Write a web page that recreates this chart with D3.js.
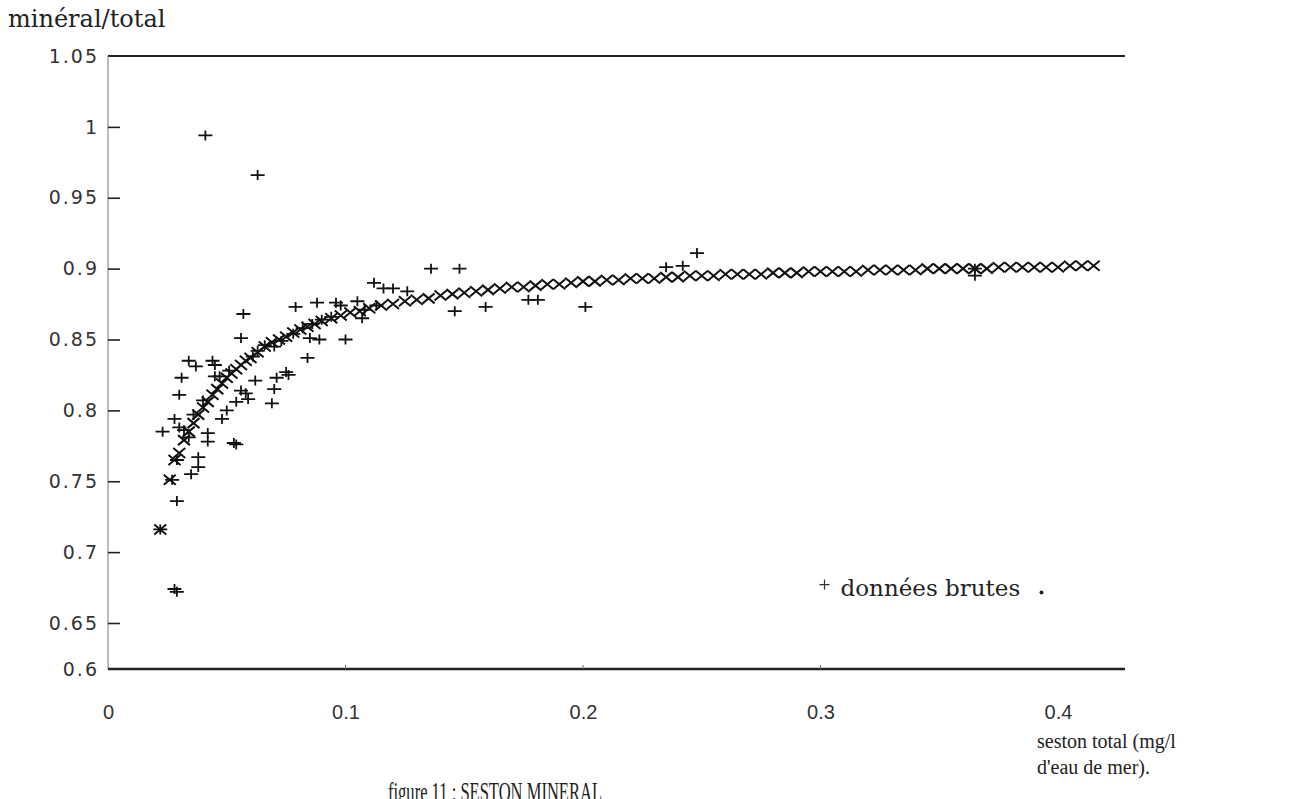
<!DOCTYPE html>
<html>
<head>
<meta charset="utf-8">
<script src="https://cdn.jsdelivr.net/npm/d3@7/dist/d3.min.js"></script>
<style>
  html, body { margin: 0; padding: 0; background: #fff; }
  svg { display: block; }
  .ytick text { font-family: "DejaVu Sans", sans-serif; font-size: 19px; letter-spacing: 2px; fill: #333; }
  .xtick text { font-family: "Liberation Sans", Arial, sans-serif; font-size: 20px; fill: #333; }
  .serif { font-family: "DejaVu Serif", serif; fill: #222; }
  .times { font-family: "Liberation Serif", "Times New Roman", serif; fill: #222; }
</style>
</head>
<body>
<div id="chart"></div>
<script>
// raw data: données brutes (seston total, minéral/total)
var rawX = [0.041, 0.063, 0.112, 0.116, 0.120, 0.126, 0.136, 0.148, 0.079, 0.088,
  0.096, 0.098, 0.105, 0.057, 0.056, 0.100, 0.084, 0.107, 0.034, 0.037,
  0.044, 0.045, 0.031, 0.045, 0.062, 0.071, 0.075, 0.076, 0.030, 0.056,
  0.058, 0.059, 0.070, 0.054, 0.069, 0.050, 0.048, 0.028, 0.023, 0.030,
  0.042, 0.042, 0.034, 0.053, 0.054, 0.029, 0.038, 0.038, 0.035, 0.027,
  0.029, 0.022, 0.028, 0.029, 0.066, 0.070, 0.073, 0.078, 0.082, 0.086,
  0.090, 0.094, 0.085, 0.089, 0.061, 0.063, 0.051, 0.047, 0.108, 0.113,
  0.040, 0.036, 0.032, 0.146, 0.159, 0.177, 0.181, 0.201, 0.235, 0.242,
  0.248, 0.365, 0.365];
var rawY = [0.994, 0.966, 0.890, 0.886, 0.886, 0.884, 0.900, 0.900, 0.873, 0.876,
  0.876, 0.874, 0.877, 0.868, 0.851, 0.850, 0.837, 0.865, 0.835, 0.831,
  0.835, 0.832, 0.823, 0.824, 0.821, 0.823, 0.827, 0.825, 0.811, 0.814,
  0.812, 0.808, 0.815, 0.806, 0.805, 0.800, 0.794, 0.794, 0.785, 0.788,
  0.784, 0.778, 0.781, 0.777, 0.776, 0.765, 0.767, 0.760, 0.755, 0.751,
  0.736, 0.716, 0.674, 0.672, 0.846, 0.845, 0.849, 0.854, 0.858, 0.861,
  0.864, 0.866, 0.851, 0.850, 0.838, 0.842, 0.828, 0.824, 0.871, 0.874,
  0.807, 0.797, 0.786, 0.870, 0.873, 0.878, 0.878, 0.873, 0.901, 0.902,
  0.911, 0.900, 0.895];

// fitted curve, drawn as x marks
var fitX = [0.022, 0.026, 0.028, 0.030, 0.032, 0.034, 0.036, 0.038, 0.040, 0.042,
  0.044, 0.046, 0.048, 0.050, 0.052, 0.054, 0.056, 0.058, 0.060, 0.063,
  0.066, 0.069, 0.072, 0.075, 0.078, 0.081, 0.084, 0.087, 0.090, 0.094,
  0.098, 0.102, 0.106, 0.110, 0.115, 0.120, 0.125, 0.130, 0.135, 0.140,
  0.145, 0.150, 0.155, 0.160, 0.165, 0.170, 0.175, 0.180, 0.185, 0.190,
  0.195, 0.200, 0.205, 0.210, 0.215, 0.220, 0.225, 0.230, 0.235, 0.240,
  0.245, 0.250, 0.255, 0.260, 0.265, 0.270, 0.275, 0.280, 0.285, 0.290,
  0.295, 0.300, 0.305, 0.310, 0.315, 0.320, 0.325, 0.330, 0.335, 0.340,
  0.345, 0.350, 0.355, 0.360, 0.365, 0.370, 0.375, 0.380, 0.385, 0.390,
  0.395, 0.400, 0.405, 0.410, 0.415];
var fitY = [0.716, 0.751, 0.765, 0.770, 0.779, 0.785, 0.791, 0.797, 0.802, 0.806,
  0.811, 0.815, 0.819, 0.823, 0.826, 0.829, 0.832, 0.835, 0.837, 0.841,
  0.845, 0.848, 0.850, 0.852, 0.855, 0.857, 0.859, 0.861, 0.863, 0.865,
  0.867, 0.869, 0.870, 0.872, 0.874, 0.875, 0.877, 0.878, 0.879, 0.881,
  0.882, 0.883, 0.884, 0.885, 0.886, 0.887, 0.887, 0.888, 0.889, 0.889,
  0.890, 0.891, 0.891, 0.892, 0.892, 0.893, 0.893, 0.893, 0.894, 0.894,
  0.895, 0.895, 0.895, 0.896, 0.896, 0.896, 0.896, 0.897, 0.897, 0.897,
  0.898, 0.898, 0.898, 0.898, 0.898, 0.899, 0.899, 0.899, 0.899, 0.899,
  0.900, 0.900, 0.900, 0.900, 0.900, 0.900, 0.901, 0.901, 0.901, 0.901,
  0.901, 0.901, 0.902, 0.902, 0.902];

var yTicks = [0.6, 0.65, 0.7, 0.75, 0.8, 0.85, 0.9, 0.95, 1, 1.05];
var yTickLabels = ["0.6", "0.65", "0.7", "0.75", "0.8", "0.85", "0.9", "0.95", "1", "1.05"];
var xTicks = [0, 0.1, 0.2, 0.3, 0.4];
var xTickLabels = ["0", "0.1", "0.2", "0.3", "0.4"];

var width = 1302, height = 799;
var margins = { top: 56, right: 177, bottom: 130, left: 108 };
var chartWidth = width - margins.left - margins.right;
var chartHeight = height - margins.top - margins.bottom;

var xScale = d3.scaleLinear().domain([0, 0.4]).range([0, 950]);
// the scanned axis is squeezed between 0.6 and 0.65
var yScale = d3.scaleLinear().domain([0.6, 0.65, 1.05]).range([chartHeight, 567, 0]);

var svg = d3.select("#chart").append("svg")
  .attr("width", width)
  .attr("height", height);

var chartElement = svg.append("g")
  .attr("transform", `translate(${margins.left},${margins.top})`);

// frame
chartElement.append("line")
  .attr("x1", 0).attr("x2", chartWidth)
  .attr("y1", 0).attr("y2", 0)
  .attr("stroke", "#222").attr("stroke-width", 2);
chartElement.append("line")
  .attr("x1", 0).attr("x2", 0)
  .attr("y1", 0).attr("y2", chartHeight)
  .attr("stroke", "#777").attr("stroke-width", 1);
chartElement.append("line")
  .attr("x1", 0).attr("x2", chartWidth)
  .attr("y1", chartHeight).attr("y2", chartHeight)
  .attr("stroke", "#222").attr("stroke-width", 2.5);

// y axis: ticks point inwards
var yAxis = d3.axisLeft(yScale)
  .tickValues(yTicks.filter(d => d > 0.6 && d < 1.05))
  .tickSize(-12)
  .tickFormat("");
var yAxisG = chartElement.append("g").attr("class", "ytick").call(yAxis);
yAxisG.select(".domain").remove();
yAxisG.selectAll("line").attr("stroke", "#222").attr("stroke-width", 1.6);

chartElement.append("g")
  .attr("class", "ytick")
  .selectAll("text")
  .data(yTicks)
  .enter()
    .append("text")
    .attr("x", -9)
    .attr("y", d => yScale(d))
    .attr("dy", "0.35em")
    .attr("text-anchor", "end")
    .text((d, i) => yTickLabels[i]);

// x axis
var xAxis = d3.axisBottom(xScale)
  .tickValues(xTicks)
  .tickSize(0)
  .tickPadding(36)
  .tickFormat((d, i) => xTickLabels[i]);
var xAxisG = chartElement.append("g")
  .attr("class", "xtick")
  .attr("transform", `translate(0,${chartHeight})`)
  .call(xAxis);
xAxisG.select(".domain").remove();
xAxisG.selectAll("text").attr("fill", "#333");

// tiny upward ticks on bottom axis
chartElement.append("g")
  .selectAll("line")
  .data(xTicks.slice(1, 4))
  .enter()
    .append("line")
    .attr("x1", d => xScale(d)).attr("x2", d => xScale(d))
    .attr("y1", chartHeight).attr("y2", chartHeight - 4)
    .attr("stroke", "#666").attr("stroke-width", 1);

// fitted curve: x markers
chartElement.append("g")
  .attr("class", "fit")
  .selectAll("path")
  .data(fitX)
  .enter()
    .append("path")
    .attr("transform", (d, i) => `translate(${xScale(d)},${yScale(fitY[i])})`)
    .attr("d", "M-6,-5L6,5M-6,5L6,-5")
    .attr("stroke", "#111")
    .attr("stroke-width", 2)
    .attr("fill", "none");

// raw data: + markers
chartElement.append("g")
  .attr("class", "raw")
  .selectAll("path")
  .data(rawX)
  .enter()
    .append("path")
    .attr("transform", (d, i) => `translate(${xScale(d)},${yScale(rawY[i])})`)
    .attr("d", "M-7,0L7,0M0,-5L0,5")
    .attr("stroke", "#111")
    .attr("stroke-width", 1.8)
    .attr("fill", "none");

// legend
var legendY = yScale(0.675);
chartElement.append("path")
  .attr("transform", `translate(${xScale(0.3) + 4},${legendY - 3})`)
  .attr("d", "M-5,0L5,0M0,-5L0,5")
  .attr("stroke", "#333")
  .attr("stroke-width", 1.2);
chartElement.append("text")
  .attr("class", "serif")
  .attr("x", xScale(0.3) + 20)
  .attr("y", legendY)
  .attr("dy", "0.35em")
  .style("font-size", "23px")
  .text("données brutes");
chartElement.append("circle")
  .attr("cx", xScale(0.3) + 221)
  .attr("cy", legendY + 5)
  .attr("r", 2)
  .attr("fill", "#222");

// axis titles
svg.append("text")
  .attr("class", "serif")
  .attr("x", 8)
  .attr("y", 27)
  .style("font-size", "24px")
  .text("minéral/total");

svg.append("text")
  .attr("class", "times")
  .attr("x", 1037)
  .attr("y", 748)
  .style("font-size", "20px")
  .text("seston total (mg/l");
svg.append("text")
  .attr("class", "times")
  .attr("x", 1037)
  .attr("y", 774)
  .style("font-size", "20px")
  .text("d'eau de mer).");

// caption, cut by the bottom edge as in the scan
svg.append("text")
  .attr("class", "times")
  .attr("x", 388)
  .attr("y", 801)
  .attr("textLength", 214)
  .attr("lengthAdjust", "spacingAndGlyphs")
  .style("font-size", "28px")
  .text("figure 11 : SESTON MINERAL");
</script>
</body>
</html>
